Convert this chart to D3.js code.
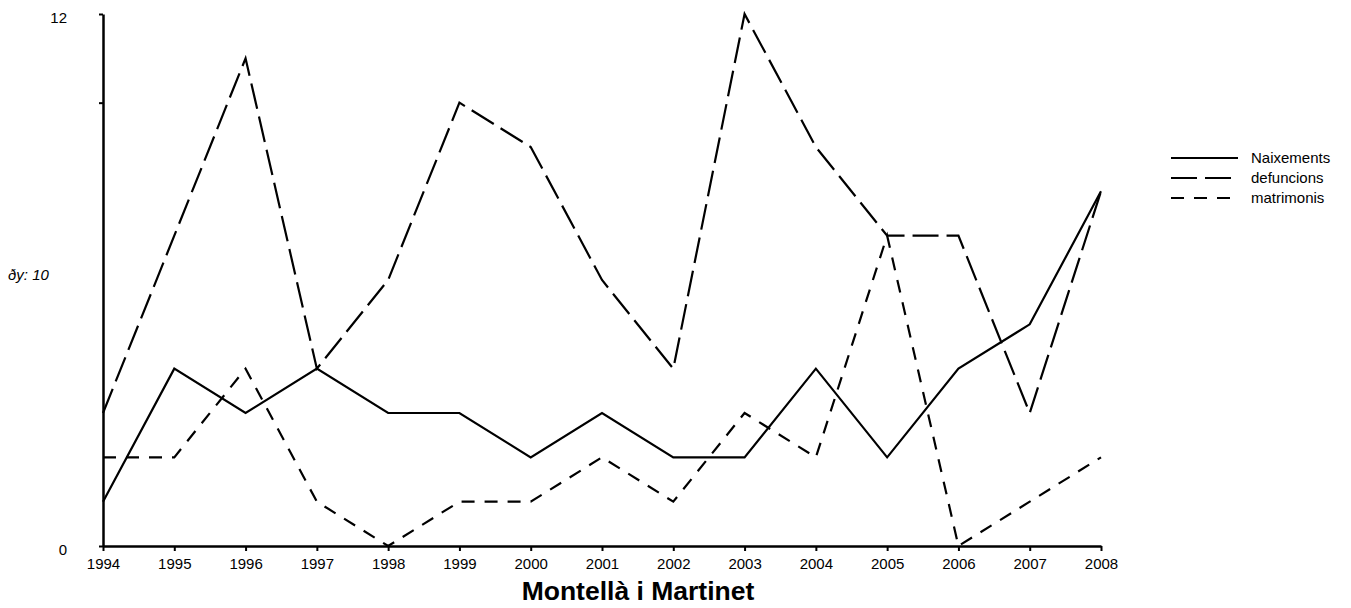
<!DOCTYPE html>
<html>
<head>
<meta charset="utf-8">
<script src="https://cdn.jsdelivr.net/npm/d3@7"></script>
<style>
  body { margin: 0; background: #fff; }
  text { font-family: "Liberation Sans", Arial, sans-serif; }
</style>
</head>
<body>
<script>
var years = [1994,1995,1996,1997,1998,1999,2000,2001,2002,2003,2004,2005,2006,2007,2008];
var naixements = [1,4,3,4,3,3,2,3,2,2,4,2,4,5,8];
var defuncions = [3,7,11,4,6,10,9,6,4,12,9,7,7,3,8];
var matrimonis = [2,2,4,1,0,1,1,2,1,3,2,7,0,1,2];
var seriesNames = ['Naixements','defuncions','matrimonis'];
var yTicks = [0,10,12];
var yLabels = {0:'0', 12:'12'};

var svgWidth = 1351, svgHeight = 608;
var margin = {top: 14, right: 250, bottom: 62, left: 103};

var svg = d3.select("body").append("svg")
  .attr("width", svgWidth)
  .attr("height", svgHeight);

var x = d3.scaleLinear()
  .domain([years[0], years[years.length-1]])
  .range([margin.left, 1101]);
var y = d3.scaleLinear()
  .domain([0, 12])
  .range([svgHeight - margin.bottom, margin.top]);

var dashes = ['none', '26,8', '13,10'];
var allSeries = [naixements, defuncions, matrimonis];

var line = d3.line()
  .x(function(d, i) { return x(years[i]); })
  .y(function(d) { return y(d); });

svg.append("g").selectAll("path")
  .data(allSeries)
  .enter().append("path")
    .attr("d", function(d) { return line(d); })
    .attr("fill", "none")
    .attr("stroke", "#000")
    .attr("stroke-width", 2.2)
    .attr("stroke-dasharray", function(d, i) { return dashes[i]; });

// axes
var xAxis = svg.append("g")
  .attr("transform", "translate(0," + y(0) + ")")
  .call(d3.axisBottom(x).tickValues(years).tickFormat(d3.format("d")).tickSize(5).tickSizeOuter(0));
var yAxis = svg.append("g")
  .attr("transform", "translate(" + margin.left + ",0)")
  .call(d3.axisLeft(y).tickValues(yTicks).tickFormat(function(d) { return yLabels[d] || ''; }).tickSize(4).tickSizeOuter(0));

[xAxis, yAxis].forEach(function(a) {
  a.select(".domain").attr("stroke-width", 2.5);
  a.selectAll(".tick line").attr("stroke-width", 2);
  a.selectAll("text").attr("font-size", 15).attr("fill", "#000")
    .attr("font-family", "Liberation Sans, Arial, sans-serif");
});
xAxis.selectAll("text").attr("dy", "1em");
yAxis.selectAll("text").attr("x", -36).attr("dy", "0.55em");

svg.append("text")
  .attr("x", 8)
  .attr("y", 275)
  .attr("dy", "0.35em")
  .attr("font-size", 15)
  .attr("font-style", "italic")
  .text("ðy: 10");

svg.append("text")
  .attr("x", 638)
  .attr("y", 600)
  .attr("text-anchor", "middle")
  .attr("font-size", 26.5)
  .attr("font-weight", "bold")
  .text("Montellà i Martinet");

// legend
var legend = svg.append("g").attr("transform", "translate(1171,158)");
var item = legend.selectAll("g")
  .data(seriesNames)
  .enter().append("g")
    .attr("transform", function(d, i) { return "translate(0," + (i * 20) + ")"; });
item.append("line")
  .attr("x1", 0).attr("x2", 67)
  .attr("stroke", "#000")
  .attr("stroke-width", 2.2)
  .attr("stroke-dasharray", function(d, i) { return dashes[i]; });
item.append("text")
  .attr("x", 80)
  .attr("dy", "0.35em")
  .attr("font-size", 15)
  .text(function(d) { return d; });
</script>
</body>
</html>
